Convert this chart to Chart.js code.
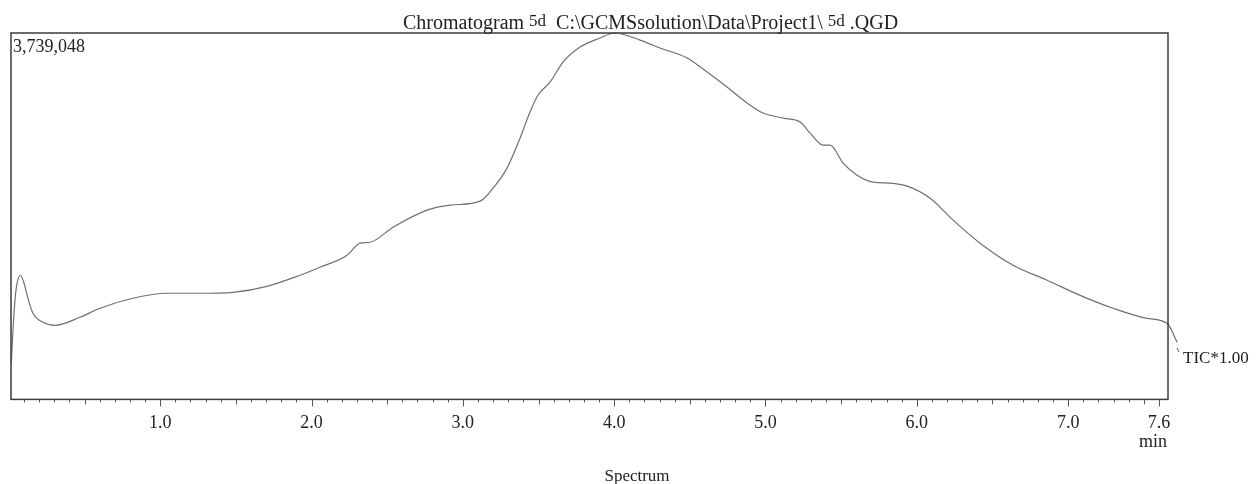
<!DOCTYPE html>
<html>
<head>
<meta charset="utf-8">
<title>Chromatogram 5d</title>
<script src="https://cdn.jsdelivr.net/npm/chart.js@4.4.0/dist/chart.umd.min.js"></script>
<style>
  html, body { margin: 0; padding: 0; background: #fff; }
</style>
</head>
<body>
<canvas id="tic" width="1260" height="484"></canvas>
<script>
// retention time (min) / total ion current counts
const retentionTimes = [
  0.016, 0.027, 0.040, 0.054, 0.077, 0.100, 0.126, 0.159, 0.225, 0.305,
  0.470, 0.602, 0.820, 1.045, 1.263, 1.481, 1.706, 1.924, 2.056, 2.235,
  2.321, 2.387, 2.539, 2.763, 2.915, 3.114, 3.200, 3.292, 3.378, 3.444,
  3.497, 3.576, 3.662, 3.775, 3.907, 4.006, 4.171, 4.303, 4.482, 4.614,
  4.746, 4.879, 4.984, 5.117, 5.229, 5.295, 5.381, 5.427, 5.513, 5.605,
  5.711, 5.823, 5.936, 6.088, 6.240, 6.418, 6.636, 6.861, 7.079, 7.297,
  7.522, 7.654, 7.721
];
const ticCounts = [
  378000, 705000, 1011000, 1185000, 1267000, 1185000, 1032000, 879000, 787000, 756000,
  838000, 930000, 1032000, 1083000, 1083000, 1093000, 1154000, 1267000, 1349000, 1471000,
  1594000, 1604000, 1757000, 1931000, 1982000, 2023000, 2156000, 2360000, 2666000, 2932000,
  3106000, 3238000, 3443000, 3596000, 3688000, 3739048, 3667000, 3586000, 3484000, 3341000,
  3187000, 3024000, 2922000, 2871000, 2830000, 2717000, 2595000, 2595000, 2411000, 2288000,
  2217000, 2207000, 2176000, 2053000, 1829000, 1594000, 1369000, 1216000, 1062000, 930000,
  827000, 776000, 582000
];
const tickLabels = ['1.0', '2.0', '3.0', '4.0', '5.0', '6.0', '7.0', '7.6'];
const fullScale = 3739048;
const timeRange = [0.014, 7.66];

const SERIF = '"Liberation Serif", "Times New Roman", serif';

// one tick every 0.1 min up to 7.6
const minorTicks = [];
for (let i = 1; i <= 76; i++) minorTicks.push(i / 10);

const framePlugin = {
  id: 'frame',
  afterDraw(chart) {
    const { ctx, chartArea: a } = chart;
    const x = chart.scales.x;
    ctx.save();

    ctx.strokeStyle = '#3c3c3c';
    ctx.lineWidth = 1.5;
    ctx.strokeRect(a.left, a.top, a.right - a.left, a.bottom - a.top);

    ctx.lineWidth = 1;
    ctx.strokeStyle = '#555';
    minorTicks.forEach((v, i) => {
      const n = i + 1;
      const len = (n % 10 === 0 || n === 76) ? 7 : (n % 5 === 0 ? 5 : 3);
      const px = Math.round(x.getPixelForValue(v)) + 0.5;
      ctx.beginPath();
      ctx.moveTo(px, a.bottom);
      ctx.lineTo(px, a.bottom + len);
      ctx.stroke();
    });

    ctx.fillStyle = '#222';
    ctx.textBaseline = 'alphabetic';

    // full-scale intensity in the corner
    ctx.font = '18px ' + SERIF;
    ctx.textAlign = 'left';
    ctx.fillText(fullScale.toLocaleString('en-US'), a.left + 2, a.top + 19);

    // unit under the last tick
    ctx.textAlign = 'center';
    ctx.fillText('min', x.getPixelForValue(7.6) - 6, 447);

    // trace name at the right
    ctx.font = '17px ' + SERIF;
    ctx.textAlign = 'left';
    ctx.fillText('TIC*1.00', 1183, 363);
    ctx.beginPath();
    ctx.moveTo(1177, 348);
    ctx.lineTo(1179, 352);
    ctx.stroke();

    ctx.font = '17px ' + SERIF;
    ctx.textAlign = 'center';
    ctx.fillText('Spectrum', 637, 481);

    // title line, the sample name is set a little higher
    const parts = [
      ['Chromatogram ', 0, 20],
      ['5d', -3, 17],
      ['  C:\\GCMSsolution\\Data\\Project1\\ ', 0, 20],
      ['5d', -3, 17],
      [' .QGD', 0, 20]
    ];
    ctx.textAlign = 'left';
    let tx = 403;
    parts.forEach(([s, dy, size]) => {
      ctx.font = size + 'px ' + SERIF;
      ctx.fillText(s, tx, 29 + dy);
      tx += ctx.measureText(s).width;
    });

    ctx.restore();
  }
};

new Chart(document.getElementById('tic'), {
  type: 'line',
  data: {
    datasets: [{
      data: retentionTimes.map((t, i) => ({ x: t, y: ticCounts[i] })),
      borderColor: '#707070',
      borderWidth: 1.2,
      pointRadius: 0,
      cubicInterpolationMode: 'monotone',
      clip: false,
      fill: false
    }]
  },
  options: {
    responsive: false,
    animation: false,
    layout: { padding: { left: 11, right: 92, top: 33, bottom: 37 } },
    plugins: { legend: { display: false }, tooltip: { enabled: false } },
    scales: {
      x: {
        type: 'linear',
        min: timeRange[0],
        max: timeRange[1],
        afterBuildTicks: (scale) => {
          scale.ticks = minorTicks.map(v => ({ value: v }));
        },
        grid: { display: false, drawTicks: false },
        border: { display: false },
        ticks: {
          autoSkip: false,
          maxRotation: 0,
          padding: 13,
          color: '#222',
          font: { family: SERIF, size: 18 },
          callback: (v) => {
            const s = Number(v).toFixed(1);
            return tickLabels.includes(s) ? s : '';
          }
        }
      },
      y: {
        display: false,
        min: 0,
        max: fullScale
      }
    }
  },
  plugins: [framePlugin]
});
</script>
</body>
</html>
